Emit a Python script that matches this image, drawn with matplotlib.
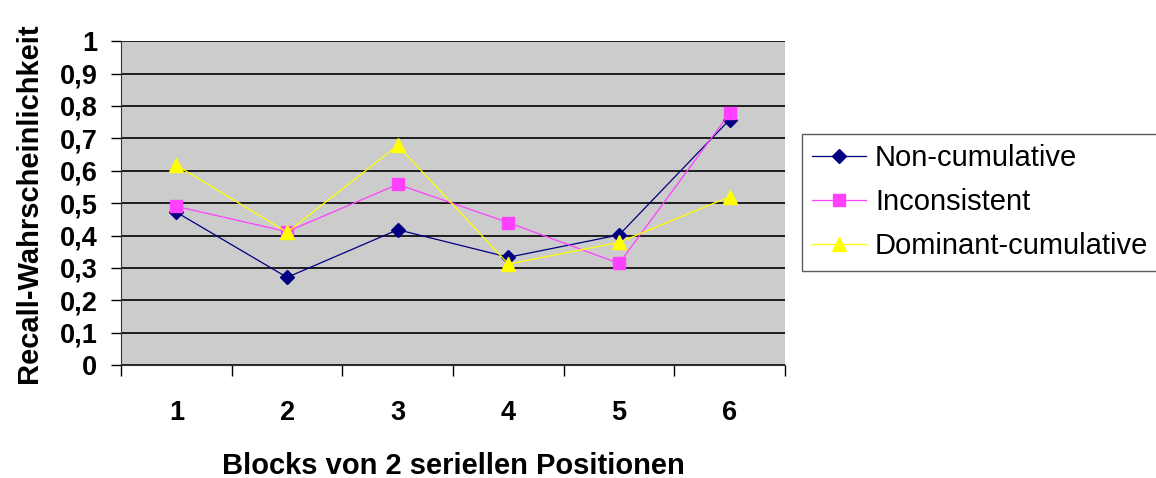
import matplotlib.pyplot as plt
from matplotlib.ticker import FixedLocator

# data
blocks = [1, 2, 3, 4, 5, 6]
non_cumulative = [0.472, 0.271, 0.418, 0.333, 0.402, 0.758]
inconsistent = [0.490, 0.412, 0.558, 0.440, 0.314, 0.778]
dominant_cumulative = [0.617, 0.410, 0.678, 0.312, 0.379, 0.520]
y_ticks = [i / 10 for i in range(11)]
y_labels = ["0", "0,1", "0,2", "0,3", "0,4", "0,5", "0,6", "0,7", "0,8", "0,9", "1"]

plt.rcParams['font.family'] = ['Liberation Sans', 'DejaVu Sans']

fig = plt.figure(figsize=(11.56, 4.78), dpi=100)
ax = fig.add_axes([0.1047, 0.236, 0.5745, 0.678])
ax.set_facecolor("#cccccc")

ax.plot(blocks, non_cumulative, color="#000080", lw=0.9, marker="D", ms=7,
        label="Non-cumulative", zorder=3)
ax.plot(blocks, inconsistent, color="#ff40ff", lw=0.9, marker="s", ms=8.5,
        label="Inconsistent", zorder=3)
ax.plot(blocks, dominant_cumulative, color="#ffff00", lw=0.9, marker="^", ms=10,
        label="Dominant-cumulative", zorder=3)

ax.set_xlim(0.5, 6.5)
ax.set_ylim(0, 1)
ax.set_yticks(y_ticks)
ax.set_yticklabels(y_labels, fontsize=19.5, fontweight="bold")
ax.set_xticks(blocks)
ax.set_xticklabels([str(b) for b in blocks], fontsize=19.5, fontweight="bold")
ax.xaxis.set_minor_locator(FixedLocator([0.5, 1.5, 2.5, 3.5, 4.5, 5.5, 6.5]))
ax.tick_params(axis="x", which="major", length=0, pad=25)
ax.tick_params(axis="x", which="minor", length=8, width=1, direction="out")
ax.tick_params(axis="y", length=7, width=1, direction="out", pad=10)

ax.grid(axis="y", color="black", lw=1.2)
for s in ["top", "right"]:
    ax.spines[s].set_visible(False)
ax.spines["left"].set_color("#333333")
ax.spines["bottom"].set_color("#333333")

ax.set_ylabel("Recall-Wahrscheinlichkeit", fontsize=21, fontweight="bold", labelpad=12)
ax.set_xlabel("Blocks von 2 seriellen Positionen", fontsize=21, fontweight="bold", labelpad=19)

leg = fig.legend(loc="upper left", bbox_to_anchor=(802 / 1156, 1 - 134 / 478),
                 fontsize=21, frameon=True, fancybox=False, borderpad=0.35,
                 handlelength=1.85, handletextpad=0.3, labelspacing=0.55,
                 borderaxespad=0)
leg.get_frame().set_edgecolor("#333333")
leg.get_frame().set_linewidth(1)

fig.savefig("out.png", dpi=100)
